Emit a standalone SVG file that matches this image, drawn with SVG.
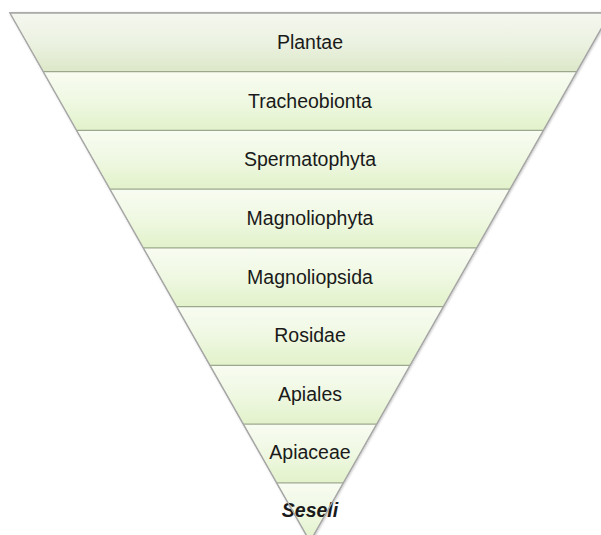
<svg xmlns="http://www.w3.org/2000/svg" width="601" height="535" viewBox="0 0 601 535">
<style>
.lbl{font-family:"Liberation Sans",Arial,sans-serif;font-size:19.5px;fill:#1a1a1a;text-anchor:middle}
.sep{stroke:#9ca88e;stroke-width:1.3;fill:none}
.band{fill:url(#g)}
</style>
<defs>
<linearGradient id="g0" x1="0" y1="0" x2="0" y2="1">
<stop offset="0" stop-color="#f4f7ef"/><stop offset="0.5" stop-color="#ecf2e2"/><stop offset="1" stop-color="#dce8c8"/>
</linearGradient>
<linearGradient id="g" x1="0" y1="0" x2="0" y2="1">
<stop offset="0" stop-color="#f8fcf2"/><stop offset="0.5" stop-color="#eff8e2"/><stop offset="1" stop-color="#e2f2ca"/>
</linearGradient>
<filter id="sh" x="-5%" y="-5%" width="110%" height="110%">
<feDropShadow dx="0.8" dy="0.8" stdDeviation="0.8" flood-color="#000" flood-opacity="0.25"/>
</filter>
</defs>
<polygon points="10,13 610,13 310,541.5" fill="#fff" stroke="#a6a6a6" stroke-width="1.3" filter="url(#sh)"/>
<g id="band1"><polygon points="10,13 610,13 576.7,71.7 43.3,71.7" fill="url(#g0)"/><text class="lbl" x="310" y="49">Plantae</text></g>
<g id="band2"><polygon points="43.3,71.7 576.7,71.7 543.3,130.4 76.7,130.4" class="band"/><text class="lbl" x="310" y="107.5">Tracheobionta</text></g>
<g id="band3"><polygon points="76.7,130.4 543.3,130.4 510,189.2 110,189.2" class="band"/><text class="lbl" x="310" y="166">Spermatophyta</text></g>
<g id="band4"><polygon points="110,189.2 510,189.2 476.7,247.9 143.3,247.9" class="band"/><text class="lbl" x="310" y="225">Magnoliophyta</text></g>
<g id="band5"><polygon points="143.3,247.9 476.7,247.9 443.3,306.6 176.7,306.6" class="band"/><text class="lbl" x="310" y="283.5">Magnoliopsida</text></g>
<g id="band6"><polygon points="176.7,306.6 443.3,306.6 410,365.3 210,365.3" class="band"/><text class="lbl" x="310" y="342">Rosidae</text></g>
<g id="band7"><polygon points="210,365.3 410,365.3 376.7,424.1 243.3,424.1" class="band"/><text class="lbl" x="310" y="400.5">Apiales</text></g>
<g id="band8"><polygon points="243.3,424.1 376.7,424.1 343.3,482.8 276.7,482.8" class="band"/><text class="lbl" x="310" y="459">Apiaceae</text></g>
<g id="band9"><polygon points="276.7,482.8 343.3,482.8 310,541.5" class="band"/><text class="lbl" x="310" y="517" font-weight="bold" font-style="italic">Seseli</text></g>
<g id="connectors">
<line class="sep" x1="43.3" y1="71.7" x2="576.7" y2="71.7"/>
<line class="sep" x1="76.7" y1="130.4" x2="543.3" y2="130.4"/>
<line class="sep" x1="110" y1="189.2" x2="510" y2="189.2"/>
<line class="sep" x1="143.3" y1="247.9" x2="476.7" y2="247.9"/>
<line class="sep" x1="176.7" y1="306.6" x2="443.3" y2="306.6"/>
<line class="sep" x1="210" y1="365.3" x2="410" y2="365.3"/>
<line class="sep" x1="243.3" y1="424.1" x2="376.7" y2="424.1"/>
<line class="sep" x1="276.7" y1="482.8" x2="343.3" y2="482.8"/>
</g>
<polygon points="10,13 610,13 310,541.5" fill="none" stroke="#a6a6a6" stroke-width="1.3"/>
</svg>
